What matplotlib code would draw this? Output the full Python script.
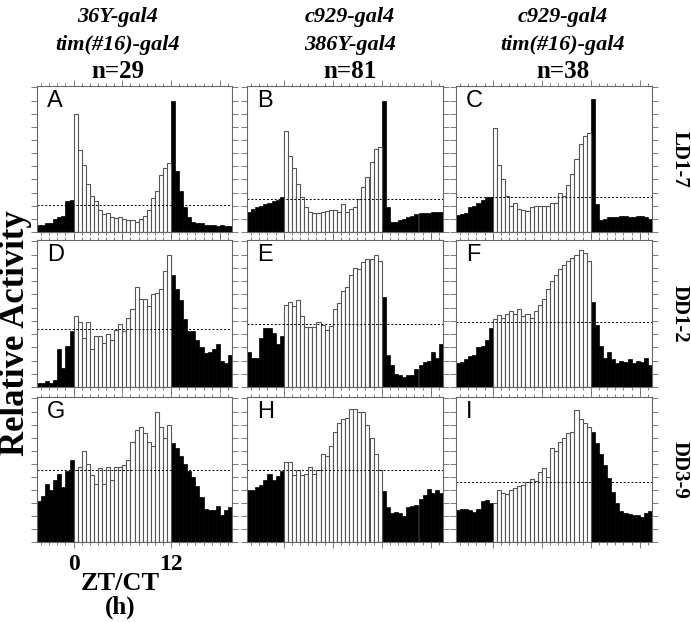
import numpy as np
import matplotlib
matplotlib.use("Agg")
import matplotlib.pyplot as plt
from matplotlib.ticker import MultipleLocator

# half-hour bins, ZT/CT -4.5 .. 19.5
ztct = np.arange(-4.5, 19.5, 0.5)

# relative activity per bin (percent of panel height)
act_A = [5, 5, 6, 6, 9, 10, 11, 21, 22,
         81, 56, 46, 33, 25, 21, 15, 12, 13, 10.5, 9.5, 10, 9, 8, 8, 7, 9, 11, 15, 23, 28, 39, 44, 47,
         90, 42, 28, 17, 10, 7, 6, 6, 5, 5, 5, 4, 5, 4, 4]
act_B = [14, 16, 17, 18, 19, 20, 21, 22, 24,
         69, 52, 44, 33, 24, 17, 13.5, 13, 13, 14, 14.5, 15, 15, 14, 19, 14, 16, 17, 22.5, 31, 38, 48, 57, 58,
         90, 17, 7, 7, 8, 9, 10, 11, 12, 13, 13, 13, 14, 14, 14]
act_C = [11.5, 12, 13, 17, 17.5, 20, 22, 24, 24,
         71, 46, 36, 25, 18, 20, 15.5, 15, 14.5, 17, 18, 18, 18, 18, 20, 20, 27, 25, 32, 40, 50, 60, 66, 68,
         91, 19, 8, 9, 10, 10, 10, 11, 11, 10, 10, 11, 11, 10, 9]
act_D = [3, 3, 4, 3, 5, 26, 13, 28, 38,
         48, 44, 33, 44, 26, 35, 35, 30, 36, 32, 39, 43, 38, 47, 53, 68, 60, 60, 55, 63, 64, 67, 79, 90,
         76, 67, 59, 46, 38, 38, 32, 27, 23, 24, 26, 29, 18, 16, 22]
act_E = [24, 20, 20, 33, 40, 40, 37, 29, 35,
         56, 58, 55, 59, 48, 41, 41, 41, 44, 42, 38.5, 41.5, 53, 57, 65, 68, 76, 81, 80, 85, 87, 87, 90, 86,
         61, 22, 15, 9, 8, 7, 8, 8, 12, 15, 17, 18, 24, 20, 29]
act_F = [16, 17, 19, 21, 22, 27, 28, 32, 40,
         46, 49, 47, 50, 52, 50, 53, 48, 50, 47, 52, 56, 60, 67, 72, 76, 80, 83, 86, 88, 90, 93, 91, 86,
         58, 42, 28, 20, 24, 19, 16, 18, 17, 19, 16, 18, 17, 20, 15]
act_G = [28.5, 32, 40, 36, 43, 47, 38, 49, 56.5,
         50, 52, 63, 54, 46, 40, 51, 40, 52, 43, 52, 52, 53, 56.5, 69, 77, 79.5, 75, 69, 66, 90, 79, 72, 81,
         68.5, 64.5, 59, 54, 49, 45, 38.6, 31, 23, 22, 22, 25, 18.6, 22, 24]
act_H = [36, 36, 38, 39, 43, 47, 43, 45.5, 49,
         55, 55, 46, 50, 46, 47, 51.5, 46.7, 50, 61, 59.3, 66.4, 76, 82, 84.8, 85.3, 91.5, 91.7, 90, 89.4, 80.7, 72, 60.7, 50,
         35.2, 24.3, 20.2, 21, 19.8, 18, 24.3, 24.8, 25.5, 30, 32.4, 36.3, 33.5, 36, 34]
act_I = [22, 22.5, 23, 22, 21, 23, 28.5, 29, 27,
         27, 35.8, 34, 33, 35.8, 37, 38.6, 39.3, 41.6, 43.2, 42, 48.5, 50.8, 45, 64.6, 63, 69.2, 72, 75.4, 76, 91, 84.6, 81.8, 79.5,
         76, 68, 61, 53, 44, 34.5, 26.7, 21.6, 20.2, 19.3, 18.6, 18.6, 17.5, 20, 21.6]

# mean activity level (dashed line), same units
mean_A, mean_B, mean_C = 18.5, 22.6, 24
mean_D, mean_E, mean_F = 39.5, 43, 44
mean_G, mean_H, mean_I = 49.7, 49.7, 41.6

panel_letters = ["A", "B", "C", "D", "E", "F", "G", "H", "I"]
genotypes = [("36Y-gal4", "tim(#16)-gal4"), ("c929-gal4", "386Y-gal4"), ("c929-gal4", "tim(#16)-gal4")]
n_flies = ["n=29", "n=81", "n=38"]
conditions = ["LD1-7", "DD1-2", "DD3-9"]

activity = [act_A, act_B, act_C, act_D, act_E, act_F, act_G, act_H, act_I]
means = [mean_A, mean_B, mean_C, mean_D, mean_E, mean_F, mean_G, mean_H, mean_I]

W, H = 691, 622
fig = plt.figure(figsize=(W / 100, H / 100), dpi=100)

col_px = [(37, 232), (247, 443), (456, 652)]
row_px = [(86, 232), (240, 387), (397, 542)]

serif = "Liberation Serif"
edge = "#666666"

for k in range(9):
    r, c = divmod(k, 3)
    x0, x1 = col_px[c]
    y0, y1 = row_px[r]
    ax = fig.add_axes([x0 / W, 1 - y1 / H, (x1 - x0) / W, (y1 - y0) / H])

    vals = np.array(activity[k])
    dark = (ztct < 0) | (ztct >= 12)
    ax.bar(ztct[dark], vals[dark], width=0.5, align="edge",
           color="black", edgecolor="black", linewidth=0.5)
    ax.bar(ztct[~dark], vals[~dark], width=0.5, align="edge",
           color="white", edgecolor="#555555", linewidth=0.8)
    ax.axhline(means[k], color="black", lw=0.7, ls=(0, (2, 2)))

    ax.set_xlim(-4.5, 19.5)
    ax.set_ylim(0, 100)
    ax.text(0.05, 0.97, panel_letters[k], transform=ax.transAxes, ha="left", va="top",
            fontsize=17, family="Liberation Sans")

    ax.xaxis.set_major_locator(MultipleLocator(6))
    ax.xaxis.set_minor_locator(MultipleLocator(1))
    ax.yaxis.set_major_locator(MultipleLocator(9))
    ax.tick_params(which="both", direction="out", top=True, bottom=True, left=True, right=True,
                   color=edge, width=0.6)
    ax.tick_params(which="major", length=4)
    ax.tick_params(which="minor", length=2)
    ax.set_yticklabels([])
    for s in ax.spines.values():
        s.set_color(edge)
        s.set_linewidth(0.8)

    if k == 6:
        ax.set_xticks([0, 12])
        ax.set_xticklabels(["0", "12"], fontsize=17, fontweight="bold", family=serif)
        ax.tick_params(axis="x", which="major", pad=5)
    else:
        ax.set_xticklabels([])

# column headers
col_cx = [118, 350, 563]
for c in range(3):
    g1, g2 = genotypes[c]
    fig.text(col_cx[c] / W, 1 - 17 / H, g1, ha="center", va="center", fontsize=16,
             family=serif, fontweight="bold", style="italic")
    fig.text(col_cx[c] / W, 1 - 45 / H, g2, ha="center", va="center", fontsize=16,
             family=serif, fontweight="bold", style="italic")
    fig.text(col_cx[c] / W, 1 - 72 / H, n_flies[c], ha="center", va="center", fontsize=18,
             family=serif, fontweight="bold")

# row labels
for r in range(3):
    y0, y1 = row_px[r]
    fig.text(680 / W, 1 - (y0 + y1) / 2 / H, conditions[r], ha="center", va="center",
             rotation=270, fontsize=15, family=serif, fontweight="bold")

fig.text(16 / W, 1 - 333 / H, "Relative Activity", ha="center", va="center", rotation=90,
         fontsize=25, family=serif, fontweight="bold")
fig.text(120 / W, 1 - 583 / H, "ZT/CT", ha="center", va="center",
         fontsize=19, family=serif, fontweight="bold")
fig.text(120 / W, 1 - 607 / H, "(h)", ha="center", va="center",
         fontsize=18, family=serif, fontweight="bold")

fig.savefig("out.png", dpi=100)
